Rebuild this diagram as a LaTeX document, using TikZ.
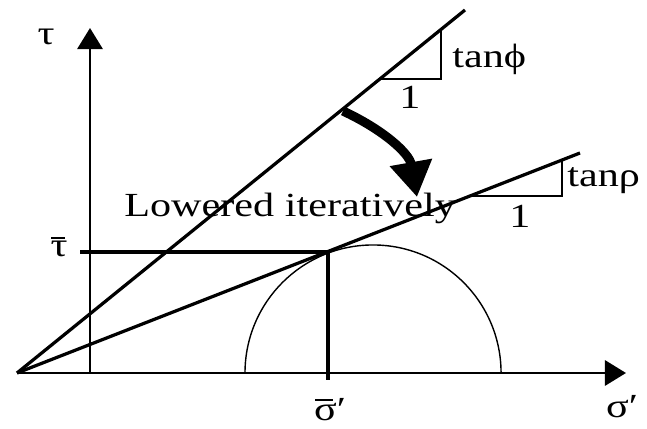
\documentclass[tikz,border=0pt]{standalone}
\usepackage{fontspec}
\setmainfont{Liberation Serif}
\usetikzlibrary{arrows.meta}
\newcommand{\barred}[1]{\setbox0\hbox{#1}\leavevmode
  \rlap{\hspace*{0.05\wd0}\raisebox{1.15\ht0}{\rule{0.8\wd0}{1.2pt}}}#1}

\begin{document}
\begin{tikzpicture}[x=0.025cm, y=0.025cm,
  axis/.style={line width=1.7pt, -{Triangle[width=18pt,length=15pt]}},
  bold/.style={line width=2.3pt},
  slope/.style={line width=1.9pt},
  thin/.style={line width=1pt},
  lbl/.style={font=\fontsize{24}{28}\selectfont, xscale=1.25, inner sep=0pt}]
\useasboundingbox (0,0) rectangle (647,429);
% points
\coordinate (O) at (17,56);
\coordinate (xend) at (626,56);
\coordinate (ybase) at (90,56);
\coordinate (yend) at (90,401);
\coordinate (phiend) at (465,419);
\coordinate (rhoend) at (580,276);
\coordinate (T) at (328,177);
\coordinate (taul) at (80,177);
\coordinate (sigb) at (328,49);
\coordinate (mohrl) at (245,56);
\coordinate (bendA) at (343,318);
\coordinate (bendB) at (417,232);
% axes
\draw[axis] (O) -- (xend);
\draw[axis] (ybase) -- (yend);
% envelopes
\draw[bold] (O) -- (phiend);
\draw[bold] (O) -- (rhoend);
\draw[bold] (taul) -- (T);
\draw[bold] (T) -- (sigb);
\draw[thin] (mohrl) arc[start angle=180, end angle=0, radius=3.2cm];
% slope triangles
\draw[slope] (380,350) -- (441,350) -- (441,399.6);
\draw[slope] (470,233) -- (562,233) -- (562,269);
% lowering arrow
\draw[line width=6.5pt, -{Triangle[width=29pt,length=25pt]}] (bendA) to[out=-25, in=100] (bendB);
% labels
\node[lbl] (tau) at (46,392) {τ};
\node[lbl] (taubar) at (59,182) {\barred{τ}};
\node[lbl] (sigbar) at (330,19) {\barred{σ}′};
\node[lbl] (sig) at (622,22) {σ′};
\node[lbl, anchor=base west] (tanphi) at (452,361) {tanϕ};
\node[lbl] (onephi) at (410,332) {1};
\node[lbl, anchor=base west] (tanrho) at (567,242) {tanρ};
\node[lbl] (onerho) at (520,213) {1};
\node[lbl, anchor=base west] (lowered) at (124,212) {Lowered iteratively};
\end{tikzpicture}
\end{document}
